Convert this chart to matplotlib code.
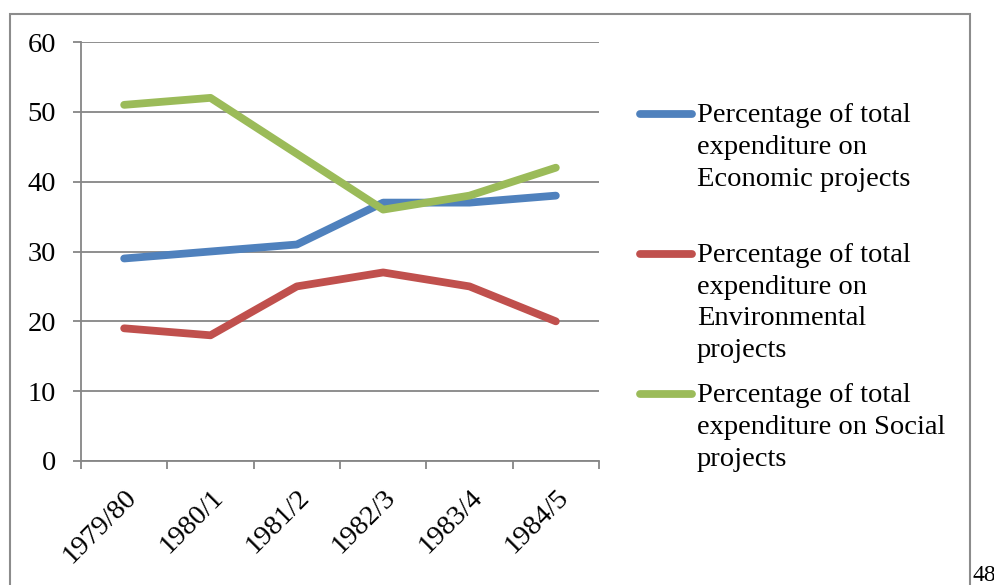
import matplotlib
matplotlib.use("Agg")
import matplotlib.pyplot as plt
from matplotlib.lines import Line2D
from matplotlib.patches import Rectangle
import numpy as np

# Chart data
years = ["1979/80", "1980/1", "1981/2", "1982/3", "1983/4", "1984/5"]
economic = [29, 30, 31, 37, 37, 38]
environmental = [19, 18, 25, 27, 25, 20]
social = [51, 52, 44, 36, 38, 42]
legend_labels = [
    ["Percentage of total", "expenditure on", "Economic projects"],
    ["Percentage of total", "expenditure on", "Environmental", "projects"],
    ["Percentage of total", "expenditure on Social", "projects"],
]
colors = ["#4F81BD", "#C0504D", "#9BBB59"]
page_number = "48"

plt.rcParams['font.family'] = ['Liberation Serif', 'DejaVu Serif']
W, H = 995, 585
fig = plt.figure(figsize=(W / 100, H / 100), dpi=100)
ax = fig.add_axes([81 / W, 1 - 461 / H, (599 - 81) / W, (461 - 42) / H])

x = np.arange(len(years))
for series, c in zip([economic, environmental, social], colors):
    ax.plot(x, series, color=c, lw=5.6, solid_capstyle='round', solid_joinstyle='round')

grid_c = "#868686"
ax.set_xlim(-0.5, len(years) - 0.5)
ax.set_ylim(0, 60)
ax.set_yticks(range(0, 61, 10))
ax.yaxis.grid(True, color=grid_c, lw=1.3)
ax.set_axisbelow(True)
for s in ["top", "right"]:
    ax.spines[s].set_visible(False)
for s in ["left", "bottom"]:
    ax.spines[s].set_color(grid_c)
    ax.spines[s].set_linewidth(1.3)

ax.set_xticks(x)
ax.set_xticklabels(years, rotation=45, ha='right', rotation_mode='anchor')
ax.set_xticks(np.arange(-0.5, len(years)), minor=True)
ax.tick_params(axis='x', which='major', length=0, pad=17, labelsize=20.5)
ax.tick_params(axis='x', which='minor', length=6, width=1.3, color=grid_c)
ax.tick_params(axis='y', length=6, width=1.3, color=grid_c, pad=12, labelsize=20.5)
for lbl in ax.get_xticklabels():
    lbl.set_x(lbl.get_position()[0])

# Legend drawn by hand to match line breaks
starts = [114, 254, 394]
for lines, c, y0 in zip(legend_labels, colors, starts):
    fig.add_artist(Line2D([640 / W, 692 / W], [1 - y0 / H, 1 - y0 / H], color=c,
                          lw=5.6, solid_capstyle='round'))
    for i, t in enumerate(lines):
        fig.text(697 / W, 1 - (y0 + 2 + i * 31.5) / H, t, fontsize=20.5, va='center', ha='left')

# Outer frame and page number
fig.add_artist(Rectangle((10 / W, -0.02), 960 / W, (H - 14) / H + 0.02, fill=False,
                         edgecolor="#8c8c8c", lw=1.5, transform=fig.transFigure))
fig.text(973 / W, 1 - 581 / H, page_number, fontsize=17, ha='left', va='baseline',
         family=['Liberation Serif'])

fig.savefig("out.png", dpi=100)
